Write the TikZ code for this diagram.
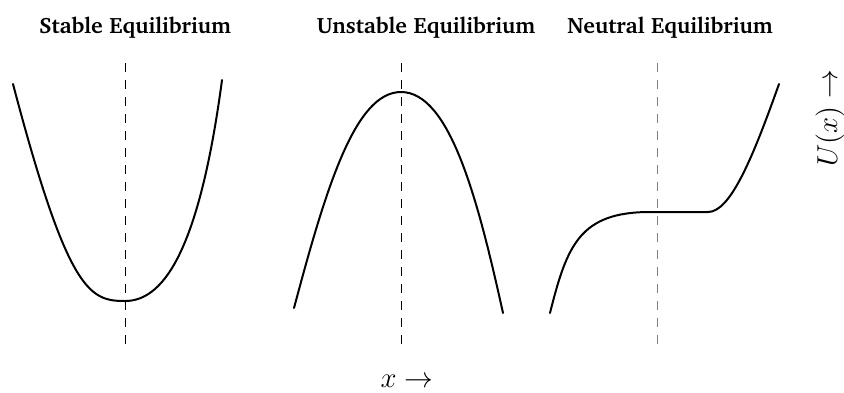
\documentclass[tikz,border=0pt]{standalone}
\usepackage[T1,TU]{fontenc}
\usepackage{amsmath}
\usepackage{tikz}
\usetikzlibrary{positioning}

\begin{document}
\begin{tikzpicture}[
    x=0.5pt, y=-0.5pt,
    title/.style={anchor=base, font=\fontencoding{T1}\fontfamily{bch}\fontseries{b}\fontsize{11.1}{13}\selectfont},
    axislabel/.style={font=\fontsize{13.3}{15}\selectfont},
    curve/.style={line width=1pt, line cap=round, line join=round},
    axis/.style={line width=0.5pt, dash pattern=on 4.25pt off 4.25pt}
]
    \useasboundingbox (0,0) rectangle (844,392);

    % Titles
    \node[title] (stable) at (135,33) {Stable Equilibrium};
    \node[title] (unstable) at (426,33) {Unstable Equilibrium};
    \node[title] (neutral) at (670,33) {Neutral Equilibrium};

    % Axis labels
    \node[axislabel, anchor=base] (xlabel) at (407,387) {$x \rightarrow$};
    \node[axislabel, rotate=90] (ulabel) at (830,118) {$U(x) \rightarrow$};

    % Equilibrium lines
    \coordinate (stabletop) at (125,63);
    \coordinate (stablebot) at (125,350);
    \coordinate (unstabletop) at (401,63);
    \coordinate (unstablebot) at (401,350);
    \coordinate (neutraltop) at (657,63);
    \coordinate (neutralbot) at (657,350);
    \draw[axis] (stabletop) -- (stablebot);
    \draw[axis] (unstabletop) -- (unstablebot);
    \draw[axis, gray] (neutraltop) -- (neutralbot);

    % Potential curves
    \draw[curve] (13,84) .. controls (68,293) and (90,301) .. (125,301)
        .. controls (160,301) and (198,260) .. (222,80);
    \draw[curve] (294,308) .. controls (326,188) and (355,92) .. (401,92)
        .. controls (450,92) and (478,200) .. (503,313);
    \draw[curve] (550,313) .. controls (567,245) and (580,212) .. (650,212)
        -- (708,212) .. controls (730,212) and (752,160) .. (779,84);
\end{tikzpicture}
\end{document}
